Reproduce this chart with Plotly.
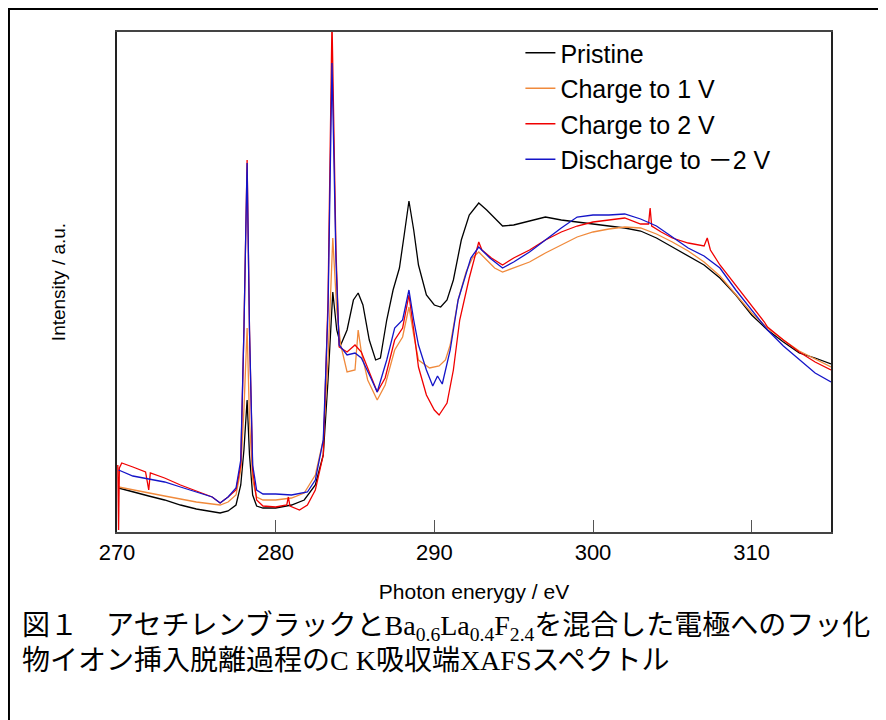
import plotly.graph_objects as go

# ---- data (photon energy in eV, intensity in arbitrary units) ----
pristine_e = [270.1, 271, 272, 273, 274, 275, 276, 276.5, 277, 277.5, 277.8, 278.0, 278.2, 278.35, 278.55, 278.8,
              279.2, 280, 281, 281.8, 282.5, 283.0, 283.3, 283.6, 283.85, 284.1, 284.5, 284.9, 285.2, 285.5,
              285.9, 286.3, 286.6, 287.0, 287.4, 287.8, 288.1, 288.4, 288.7, 289.0, 289.5, 290.0, 290.4, 290.8,
              291.2, 291.7, 292.2, 292.8, 293.3, 293.8, 294.3, 295, 296, 297, 298, 299, 300, 301, 302, 303,
              304, 305, 306, 307, 308, 309, 310, 311, 312, 313, 314, 315]
pristine_i = [42, 38, 34, 30, 25, 21, 18, 17, 19, 25, 45, 80, 130, 75, 35, 24,
              22, 22, 25, 30, 45, 75, 150, 238, 200, 185, 200, 230, 237, 225,
              190, 170, 172, 210, 240, 262, 295, 329, 300, 265, 235, 225, 223, 230,
              250, 290, 315, 327, 320, 312, 304, 305, 309, 313, 310, 308, 306, 304, 302, 299,
              292, 283, 274, 265, 252, 235, 215, 200, 188, 177, 172, 166]

charge1_e = [270.1, 271, 272, 273, 274, 275, 276, 276.5, 277, 277.5, 277.8, 278.0, 278.2, 278.35, 278.55, 278.8,
             279.2, 280, 281, 281.8, 282.5, 283.0, 283.3, 283.6, 283.85, 284.1, 284.5, 285.0, 285.2, 285.4,
             285.8, 286.4, 286.9, 287.5, 288.0, 288.4, 288.7, 289.0, 289.7, 290.3, 290.7, 291.0, 291.5, 292.0,
             292.4, 292.8, 293.3, 293.8, 294.3, 295, 296, 297, 298, 299, 300, 301, 302, 303, 304, 305, 306,
             307, 308, 309, 310, 311, 312, 313, 314, 315]
charge1_i = [43, 40, 37, 34, 31, 28, 26, 25, 28, 35, 60, 120, 202, 110, 50, 33,
             30, 30, 32, 37, 55, 90, 170, 292, 220, 185, 158, 160, 200, 178,
             150, 130, 145, 180, 193, 223, 195, 170, 162, 164, 170, 185, 230, 258,
             272, 278, 270, 262, 258, 262, 268, 277, 285, 293, 298, 301, 303, 302, 296, 288, 279,
             268, 254, 236, 217, 202, 190, 179, 171, 163]

charge2_e = [270.05, 270.1, 270.15, 270.3, 271, 271.8, 272.0, 272.1, 273, 274, 275, 276, 276.5, 277, 277.5,
             277.8, 278.0, 278.2, 278.35, 278.55, 278.8, 279.2, 280, 280.7, 280.8, 280.9, 281.5, 282.0, 282.5,
             283.0, 283.3, 283.55, 283.8, 284.0, 284.5, 285.0, 285.4, 285.8, 286.4, 286.9, 287.5, 288.0,
             288.4, 288.7, 289.0, 289.5, 290.0, 290.3, 290.8, 291.2, 291.6, 292.2, 292.6, 292.8, 293.0,
             293.6, 294.3, 295, 296, 297, 298, 299, 300, 301, 302, 303, 303.5, 303.6, 303.7, 304.3, 305,
             306, 307, 307.2, 307.4, 308, 309, 310, 310.8, 311, 312, 313, 314, 315]
charge2_i = [65, 0, 62, 67, 63, 58, 40, 57, 52, 45, 39, 33, 27, 33, 40,
             65, 200, 370, 200, 60, 30, 24, 23, 25, 33, 24, 20, 25, 40,
             75, 230, 510, 280, 183, 178, 185, 178, 162, 138, 152, 190, 202,
             235, 200, 163, 135, 120, 115, 127, 160, 210, 252, 275, 288, 280,
             272, 265, 272, 280, 290, 298, 304, 308, 310, 312, 306, 306, 322, 304, 298, 292,
             287, 284, 292, 280, 265, 245, 225, 208, 203, 190, 178, 168, 160]

discharge_e = [270.1, 271, 272, 273, 274, 275, 276, 276.5, 277, 277.5, 277.8, 278.0, 278.2, 278.35, 278.55,
               278.8, 279.2, 280, 281, 282, 282.5, 283.0, 283.3, 283.55, 283.8, 284.0, 284.5, 285.0, 285.4,
               286.0, 286.4, 287.0, 287.5, 288.0, 288.4, 288.7, 289.0, 289.5, 289.9, 290.2, 290.5, 291.0,
               291.5, 292.3, 292.8, 293.5, 294.3, 295, 296, 297, 298, 299, 300, 301, 302, 303, 304, 305,
               306, 307, 308, 309, 310, 311, 312, 313, 314, 315]
discharge_i = [60, 54, 51, 48, 43, 38, 33, 27, 33, 42, 70, 200, 367, 200, 65,
               40, 36, 36, 35, 38, 50, 90, 220, 467, 270, 185, 175, 177, 172,
               152, 138, 170, 202, 210, 240, 210, 185, 160, 144, 154, 146, 180,
               230, 272, 283, 272, 262, 268, 278, 290, 302, 313, 315, 315, 316, 311, 304, 293,
               282, 274, 262, 240, 220, 200, 184, 170, 157, 148]

series_names = ["Pristine", "Charge to 1 V", "Charge to 2 V", "Discharge to －2 V"]
series_colors = ["#000000", "#F08A3C", "#F00000", "#1414C8"]
x_ticks = [270, 280, 290, 300, 310]

caption_line1 = "図１　アセチレンブラックとBa<sub>0.6</sub>La<sub>0.4</sub>F<sub>2.4</sub>を混合した電極へのフッ化"
caption_line2 = "物イオン挿入脱離過程のC K吸収端XAFSスペクトル"

SANS = "Liberation Sans, Arial, Noto Sans CJK JP, sans-serif"
SERIF = "Liberation Serif, Times New Roman, Noto Sans CJK JP, serif"

fig = go.Figure()
all_series = [(pristine_e, pristine_i), (charge1_e, charge1_i), (charge2_e, charge2_i), (discharge_e, discharge_i)]
for (e, i), name, color in zip(all_series, series_names, series_colors):
    fig.add_trace(go.Scatter(x=e, y=i, mode="lines", name=name,
                             line=dict(color=color, width=1.3)))

fig.update_layout(
    width=878, height=712,
    margin=dict(l=109, r=55, t=24, b=188),
    paper_bgcolor="white", plot_bgcolor="white",
    showlegend=True,
    legend=dict(x=0.565, y=1.004, xanchor="left", yanchor="top",
                font=dict(family=SANS, size=25, color="#000"),
                bgcolor="rgba(0,0,0,0)", itemwidth=30, tracegroupgap=0),
    xaxis=dict(range=[270, 315], tickvals=x_ticks, ticktext=[str(t) for t in x_ticks],
               ticks="inside", ticklen=12, tickwidth=1.2, tickcolor="#555",
               showline=True, linecolor="#444", linewidth=1.5, mirror=True,
               showgrid=False, zeroline=False,
               tickfont=dict(family=SANS, size=22, color="#000"),
               title=dict(text="Photon enerygy / eV", font=dict(family=SANS, size=21, color="#000"),
                          standoff=20)),
    yaxis=dict(range=[-2, 498], showticklabels=False, ticks="",
               showline=True, linecolor="#222", linewidth=1.5, mirror=True,
               showgrid=False, zeroline=False,
               title=dict(text="Intensity / a.u.", font=dict(family=SANS, size=19, color="#000"),
                          standoff=45)),
    annotations=[
        dict(text=caption_line1, xref="paper", yref="paper", x=-0.136, y=-0.19,
             xanchor="left", yanchor="middle", showarrow=False,
             font=dict(family=SERIF, size=28, color="#000")),
        dict(text=caption_line2, xref="paper", yref="paper", x=-0.136, y=-0.256,
             xanchor="left", yanchor="middle", showarrow=False,
             font=dict(family=SERIF, size=28, color="#000")),
    ],
    shapes=[
        dict(type="line", xref="paper", yref="paper", x0=-0.16, x1=1.08, y0=1.046, y1=1.046,
             line=dict(color="#000", width=2)),
        dict(type="line", xref="paper", yref="paper", x0=-0.1513, x1=-0.1513, y0=1.046, y1=-0.38,
             line=dict(color="#000", width=2)),
    ],
)

fig.write_html("out.html")
